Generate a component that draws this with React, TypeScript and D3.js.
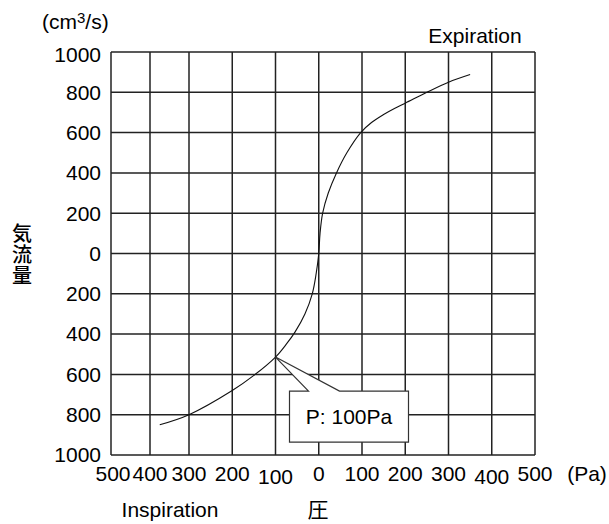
import React, { useRef, useEffect } from 'react'
import * as d3 from 'd3'

// pressure (Pa) on x, flow (cm3/s) on y
const xTicks = [-500, -400, -300, -200, -100, 0, 100, 200, 300, 400, 500]
const yTicks = [-1000, -800, -600, -400, -200, 0, 200, 400, 600, 800, 1000]
const pressure = [-375, -300, -200, -150, -100, -75, -55, -32, -15, -6, 0, 3, 9, 22, 41, 65, 97, 122, 150, 175, 200, 250, 300, 350]
const flow = [-850, -800, -680, -605, -514, -450, -390, -300, -200, -100, 0, 100, 200, 300, 400, 500, 600, 650, 690, 720, 746, 800, 850, 888]
const markerPoint = { p: -100, q: -514, label: 'P: 100Pa' }

const App = () => {
  const svgRef = useRef<SVGSVGElement>(null)

  useEffect(() => {
    const width = 609
    const height = 524
    const font = '"Liberation Sans", Arial, sans-serif'
    const cjk = '"Noto Sans CJK JP", sans-serif'

    const svg = d3.select(svgRef.current)
    svg.selectAll('*').remove()
    svg.attr('width', width).attr('height', height)

    // the left cells are a bit narrower in the original
    const x = d3.scaleLinear().domain([-500, -300, 500]).range([111, 189, 535])
    const y = d3.scaleLinear().domain([-1000, 1000]).range([455, 52])

    const grid = svg.append('g').attr('stroke', '#222').attr('stroke-width', 1.5)
    grid.selectAll('line.v')
      .data(xTicks)
      .join('line')
      .attr('class', 'v')
      .attr('x1', d => x(d)).attr('x2', d => x(d))
      .attr('y1', y(1000)).attr('y2', y(-1000))
    grid.selectAll('line.h')
      .data(yTicks)
      .join('line')
      .attr('class', 'h')
      .attr('y1', d => y(d)).attr('y2', d => y(d))
      .attr('x1', x(-500)).attr('x2', x(500))

    // y labels (absolute values)
    svg.append('g')
      .attr('font-family', font)
      .attr('font-size', 21)
      .attr('text-anchor', 'end')
      .selectAll('text')
      .data(yTicks)
      .join('text')
      .attr('x', 101)
      .attr('y', d => y(d) + (d === 1000 ? 3 : 0))
      .attr('dy', '0.35em')
      .text(d => Math.abs(d))

    // x labels, 100 and 400 sit a little lower
    svg.append('g')
      .attr('font-family', font)
      .attr('font-size', 21)
      .attr('text-anchor', 'middle')
      .selectAll('text')
      .data(xTicks)
      .join('text')
      .attr('x', d => x(d) + (d === -500 ? 2 : 0))
      .attr('y', d => d === -100 || d === 400 ? 477 : 474)
      .attr('dy', '0.35em')
      .text(d => Math.abs(d))

    svg.append('text')
      .attr('x', 587).attr('y', 474).attr('dy', '0.35em')
      .attr('text-anchor', 'middle')
      .attr('font-family', font).attr('font-size', 21)
      .text('(Pa)')

    const unit = svg.append('text')
      .attr('x', 42).attr('y', 22).attr('dy', '0.35em')
      .attr('font-family', font).attr('font-size', 21)
    unit.append('tspan').text('(cm')
    unit.append('tspan').attr('font-size', 15).attr('dy', '-0.45em').text('3')
    unit.append('tspan').attr('dy', '0.32em').text('/s)')

    svg.append('text')
      .attr('x', 475).attr('y', 36).attr('dy', '0.35em')
      .attr('text-anchor', 'middle')
      .attr('font-family', font).attr('font-size', 21)
      .text('Expiration')

    svg.append('text')
      .attr('x', 170).attr('y', 510).attr('dy', '0.35em')
      .attr('text-anchor', 'middle')
      .attr('font-family', font).attr('font-size', 21)
      .text('Inspiration')

    svg.append('text')
      .attr('x', 318).attr('y', 510).attr('dy', '0.35em')
      .attr('text-anchor', 'middle')
      .attr('font-family', cjk).attr('font-size', 21)
      .text('圧')

    // vertical label: baseline turned downwards, each glyph turned back upright
    svg.append('text')
      .attr('transform', 'translate(12,241) rotate(90)')
      .attr('rotate', '-90 -90 -90')
      .attr('font-family', cjk).attr('font-size', 20)
      .attr('font-weight', 500)
      .attr('letter-spacing', 1)
      .text('気流量')

    const line = d3.line<number>()
      .x((d, i) => x(pressure[i]))
      .y(d => y(d))
      .curve(d3.curveCatmullRom.alpha(0.5))
    svg.append('path')
      .datum(flow)
      .attr('fill', 'none')
      .attr('stroke', '#111')
      .attr('stroke-width', 1.1)
      .attr('d', line)

    // callout
    const px = x(markerPoint.p)
    const py = y(markerPoint.q)
    const bx0 = px + 14, bx1 = px + 133, by0 = py + 34, by1 = py + 85
    const callout = d3.path()
    callout.moveTo(bx0, by0)
    callout.lineTo(px + 33, by0)
    callout.lineTo(px, py)
    callout.lineTo(px + 64, by0)
    callout.lineTo(bx1, by0)
    callout.lineTo(bx1, by1)
    callout.lineTo(bx0, by1)
    callout.closePath()
    svg.append('path')
      .attr('d', callout.toString())
      .attr('fill', '#fff')
      .attr('stroke', '#333')
      .attr('stroke-width', 1.2)
    svg.append('text')
      .attr('x', (bx0 + bx1) / 2).attr('y', (by0 + by1) / 2).attr('dy', '0.35em')
      .attr('text-anchor', 'middle')
      .attr('font-family', font).attr('font-size', 21)
      .text(markerPoint.label)
  }, [])

  return <svg ref={svgRef} style={{ position: 'absolute', left: 0, top: 0, background: '#fff' }} />
}

export default App
